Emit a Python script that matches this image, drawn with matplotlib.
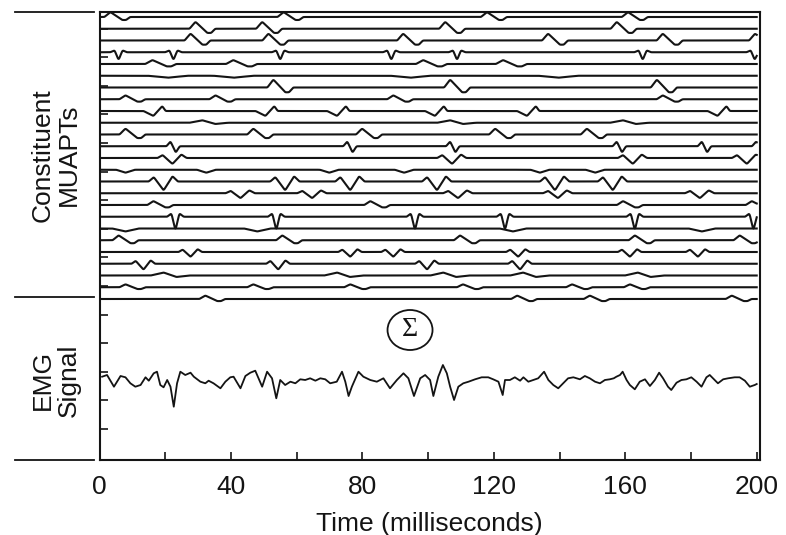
import numpy as np
import matplotlib
matplotlib.use("Agg")
import matplotlib.pyplot as plt
from matplotlib.patches import Ellipse
from matplotlib.lines import Line2D

# ---------------- data ----------------
time_ticks = [0, 40, 80, 120, 160, 200]
minor_time_ticks = [20, 60, 100, 140, 180]
x_label = "Time (milliseconds)"
muapt_label = "Constituent\nMUAPTs"
emg_label = "EMG\nSignal"
sum_symbol = "Σ"

# waveform kind, amplitude and spread of each motor unit (top to bottom)
unit_shapes = ["updown", "updown", "updown", "spike_down", "updown", "dip",
               "updown", "updown", "downup", "bump", "updown", "spike_updown",
               "poly", "dip", "poly", "poly", "updown", "spike_down", "dip",
               "updown", "poly", "poly", "bump", "updown", "updown"]
unit_amps = [5, 7, 7, 8, 4, 2, 8, 4, 5, 2.5, 6, 5, 6, 3, 9, 5, 4, 14, 3, 5,
             5, 6, 3, 3, 3.5]
unit_spread = [1, 1, 1, 1, 1.2, 1.5, 1, 1, 1, 1.3, 1, 1, 1, 0.7, 1, 1, 1, 1,
               1, 1, 0.8, 0.8, 1.3, 1, 1]

# firing times (ms) of each motor unit action potential train
fire_01 = [3.3, 56.0, 117.9, 160.8]
fire_02 = [29.2, 49.5, 105.2, 157.4]
fire_03 = [27.7, 51.4, 92.4, 136.5, 171.4, 199.5]
fire_04 = [5.8, 22.5, 55.0, 88.8, 108.8, 165.3, 199.4]
fire_05 = [16.1, 40.7, 98.5, 122.8]
fire_06 = [20.7, 40.7, 94.5, 139.5]
fire_07 = [52.9, 106.7, 169.6]
fire_08 = [7.9, 35.3, 89.4, 171.4]
fire_09 = [16.4, 50.5, 72.3, 102.1, 130.1, 188.1]
fire_10 = [31.3, 106.7, 159.3]
fire_11 = [7.9, 46.8, 79.9, 120.4, 148.3]
fire_12 = [21.6, 75.4, 106.7, 157.4, 183.3, 199.8]
fire_13 = [22.2, 107.3, 162.3, 197.0]
fire_14 = [7.9, 32.5, 69.9, 92.7, 134.0, 150.8]
fire_15 = [19.5, 56.5, 76.3, 102.7, 138.6, 156.2]
fire_16 = [42.9, 64.7, 109.1, 139.5, 182.7]
fire_17 = [16.4, 82.4, 159.3, 198.5]
fire_18 = [23.1, 53.8, 96.0, 123.4, 162.9, 199.0]
fire_19 = [7.9, 48.0, 125.8, 183.3]
fire_20 = [5.8, 55.6, 109.7, 162.9, 194.8]
fire_21 = [27.7, 76.3, 89.4, 127.4, 161.4, 182.1]
fire_22 = [13.4, 54.4, 99.7, 128.0]
fire_23 = [19.5, 72.3, 104.6, 128.9, 163.8]
fire_24 = [7.9, 46.8, 76.3, 110.6, 143.8, 161.4]
fire_25 = [32.2, 127.1, 149.2, 192.4]
firing_times = [fire_01, fire_02, fire_03, fire_04, fire_05, fire_06, fire_07,
                fire_08, fire_09, fire_10, fire_11, fire_12, fire_13, fire_14,
                fire_15, fire_16, fire_17, fire_18, fire_19, fire_20, fire_21,
                fire_22, fire_23, fire_24, fire_25]

# EMG signal (time ms, amplitude)
emg_t = [0.8, 2.3, 4.4, 6.4, 7.9, 9.4, 10.9, 12.5, 14.0, 15.0,
         16.5, 17.5, 18.5, 19.5, 20.6, 21.6, 22.6, 23.6, 24.6, 26.1,
         27.7, 28.7, 30.7, 32.2, 33.2, 34.7, 36.8, 38.3, 39.8, 40.8,
         42.9, 44.4, 45.9, 47.4, 48.4, 49.5, 51.0, 52.5, 53.8, 55.0,
         56.5, 58.1, 59.6, 61.1, 62.6, 64.1, 65.7, 67.2, 68.7, 70.2,
         72.2, 73.8, 74.8, 75.8, 76.8, 78.8, 80.3, 82.4, 84.4, 86.4,
         88.4, 90.5, 92.5, 94.0, 95.7, 97.6, 99.1, 100.6, 101.6, 103.1, 104.5,
         105.7, 106.7, 107.9, 109.2, 110.7, 112.3, 114.3, 116.3, 118.3, 119.8,
         121.4, 122.7, 123.4, 124.9, 126.4, 128.0, 129.0, 130.5, 132.0, 133.5,
         135.3, 136.6, 138.1, 139.6, 141.1, 142.6, 144.2, 146.2, 147.7, 149.2,
         150.8, 152.3, 153.8, 155.3, 156.5, 157.3, 158.4, 159.2, 160.4, 161.4,
         162.9, 164.4, 166.0, 167.5, 169.0, 170.3, 171.5, 173.0, 174.0, 175.6,
         177.1, 178.6, 180.1, 181.7, 183.2, 184.7, 185.7, 186.7, 188.2, 189.8,
         191.3, 193.3, 194.8, 196.4, 197.9, 199.4, 200.0]
emg_v = [1.3, 3, -8.7, 2, 0.7, -5.3, -8.7, -7, 0.7, -2.7,
         4.7, 6.3, -7, -9.3, -2, -8.7, -28.7, -5.3, 6.3, 3,
         5.3, 1.3, -3.7, -5.3, -2.7, -5.3, -10.3, -3.7, 0.7, 1.3,
         -10.3, 2, 5.3, 7.3, -0.3, -8.7, 6.3, -0.3, -20.3, -2,
         -7, -3.7, -5.3, -1.3, -2, -0.3, -2.7, -0.3, -1.3, -5.3,
         -3.7, 6.3, -3.7, -18, -8.7, 6.3, 1.3, -2, -3.7, -0.3,
         -10.3, -2, 4.7, -0.3, -18, -0.3, 3, -2, -18, 1.3, 13,
         4.7, -8.7, -22, -8.7, -5.3, -3.7, -1.3, 0.7, 0.7, -1.3,
         -3.7, -17, -2, -2, 0.7, -2.7, 0.7, -3.7, -2, -0.3,
         6.3, -2, -7, -10.3, -5.3, -0.3, 0.7, -1.3, 2, -0.3,
         -3.7, -5.3, -2, -1.3, -0.3, 1.3, 3, 6.3, -2, -7,
         -11.3, -3.7, -1.3, -8, -2, 5.3, -0.3, -8.7, -12, -4.7,
         -2, -1.3, 0.7, -3.7, -8.7, 0.7, 3, -0.3, -5.3, -1.3,
         -0.3, 0.7, 0.7, -2.7, -8.7, -7, -6]

# ---------------- waveform templates (shape only) ----------------
templates = {
    "updown":       ([-1.8, 0.0, 3.6, 4.8, 6.0], [0, 1, -0.6, -0.6, 0]),
    "spike_down":   ([-2.5, -1.2, 0.0, 1.2, 2.5], [0, 0.25, -1, 0.25, 0]),
    "spike_updown": ([-1.2, 0.0, 1.6, 2.8], [0, 1, -1.3, 0]),
    "poly":         ([-4.5, -3.0, 0.0, 2.7, 4.3], [0, 0.5, -1, 0.6, 0]),
    "downup":       ([-3.0, 0.0, 2.7, 3.7], [0, -1, 1, 0]),
    "dip":          ([-4.0, 0.0, 4.0], [0, -1, 0]),
    "bump":         ([-3.0, 0.0, 3.0, 6.0], [0, 1, -0.5, 0]),
}

t = np.linspace(0, 200, 4001)
sig = 0.2 / 0.05
kx = np.arange(-12, 13)
kern = np.exp(-0.5 * (kx / sig) ** 2)
kern /= kern.sum()


def smooth(y):
    yp = np.pad(y, 12, mode="edge")
    return np.convolve(yp, kern, mode="valid")


# ---------------- figure ----------------
W, H = 786, 535
fig = plt.figure(figsize=(W / 100, H / 100), dpi=100)
ax_left, ax_right, ax_top, ax_bottom = 99.5, 760.0, 12.0, 460.0
ax = fig.add_axes([ax_left / W, 1 - ax_bottom / H, (ax_right - ax_left) / W,
                   (ax_bottom - ax_top) / H])
ax.set_xlim(0, 201)
ax.set_ylim(0, ax_bottom - ax_top)

ink = "#141414"
top_base = 443.0
spacing = 11.75
for i, (shape, amp, spr, times) in enumerate(zip(unit_shapes, unit_amps,
                                                  unit_spread, firing_times)):
    offs, vals = templates[shape]
    offs = np.array(offs) * spr
    y = np.zeros_like(t)
    for ft in times:
        y += np.interp(t, ft + offs, vals, left=0, right=0)
    y = smooth(y) * amp
    ax.plot(t, top_base - i * spacing + y, color=ink, lw=1.5,
            solid_joinstyle="round")

emg_base = 82.0
ax.plot(emg_t, emg_base + np.array(emg_v), color=ink, lw=1.3,
        solid_joinstyle="round")

# summation symbol
px_per_ms = (ax_right - ax_left) / 201
ax.add_patch(Ellipse((94.5, 130), width=45 / px_per_ms, height=40,
                     fill=False, lw=1.3, ec=ink))
ax.text(94.5, 130, sum_symbol, ha="center", va="center", fontsize=20,
        family=["Liberation Serif", "DejaVu Serif"], color=ink)

# axes styling
for s in ax.spines.values():
    s.set_linewidth(1.5)
    s.set_color(ink)
ax.set_xticks(time_ticks)
ax.set_xticks(minor_time_ticks, minor=True)
ax.set_xticklabels([str(v) for v in time_ticks])
ax.set_yticks([31 + 28.6 * k for k in range(15)])
ax.set_yticklabels([])
ax.tick_params(axis="both", which="both", direction="in", length=6,
               width=1.2, color=ink)
ax.tick_params(axis="x", labelsize=19, pad=11, labelcolor=ink)
for lab in ax.get_xticklabels():
    lab.set_family(["Liberation Sans", "DejaVu Sans"])
ax.set_xlabel(x_label, fontsize=19, family=["Liberation Sans", "DejaVu Sans"],
              labelpad=9, color=ink)

# outer labels and separator lines
for yy in (12, 297, 460):
    fig.add_artist(Line2D([15 / W, 94 / W], [1 - yy / H, 1 - yy / H],
                          color=ink, lw=1.3))
fig.text(56 / W, 1 - 155 / H, muapt_label, rotation=90, ha="center",
         va="center", fontsize=19, family=["Liberation Sans", "DejaVu Sans"],
         linespacing=1.1, multialignment="center", color=ink)
fig.text(56 / W, 1 - 380 / H, emg_label, rotation=90, ha="center",
         va="center", fontsize=19, family=["Liberation Sans", "DejaVu Sans"],
         linespacing=1.1, multialignment="center", color=ink)

fig.savefig("out.png", dpi=100)
